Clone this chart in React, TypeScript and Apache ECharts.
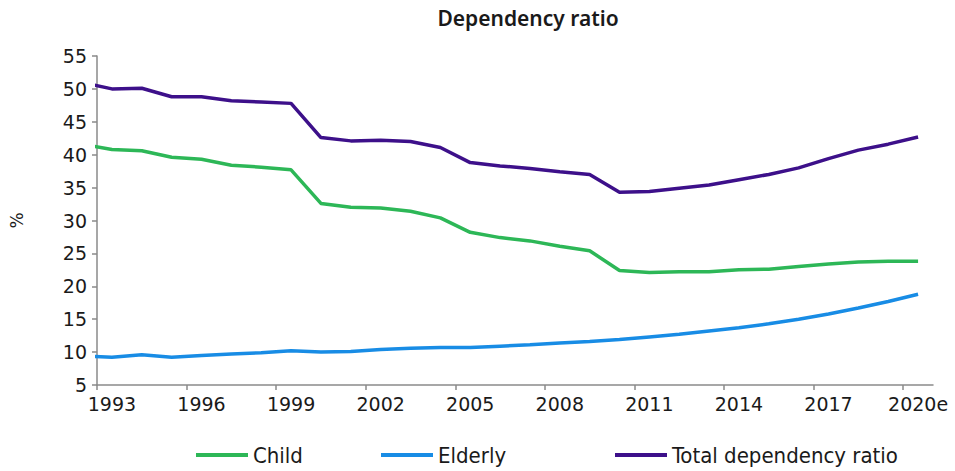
import React, { useEffect, useRef } from "react";
import * as echarts from "echarts";

// Annual observations; 1992 sits just left of the axis start and is clipped by the grid
const years = [
  1992, 1993, 1994, 1995, 1996, 1997, 1998, 1999, 2000, 2001, 2002, 2003, 2004, 2005, 2006,
  2007, 2008, 2009, 2010, 2011, 2012, 2013, 2014, 2015, 2016, 2017, 2018, 2019, 2020,
];
const child = [
  41.6, 40.8, 40.6, 39.6, 39.3, 38.4, 38.1, 37.7, 32.6, 32.0, 31.9, 31.4, 30.4, 28.2, 27.4,
  26.9, 26.1, 25.4, 22.4, 22.1, 22.2, 22.2, 22.5, 22.6, 23.0, 23.4, 23.7, 23.8, 23.8,
];
const elderly = [
  9.4, 9.2, 9.6, 9.2, 9.5, 9.7, 9.9, 10.2, 10.0, 10.1, 10.4, 10.6, 10.7, 10.7, 10.9,
  11.1, 11.4, 11.6, 11.9, 12.3, 12.7, 13.2, 13.7, 14.3, 15.0, 15.8, 16.7, 17.7, 18.8,
];
const total = [
  51.0, 50.0, 50.1, 48.8, 48.8, 48.2, 48.0, 47.8, 42.6, 42.1, 42.2, 42.0, 41.1, 38.8, 38.3,
  37.9, 37.4, 37.0, 34.3, 34.4, 34.9, 35.4, 36.2, 37.0, 38.0, 39.4, 40.7, 41.6, 42.7,
];
const xTickLabels = ["1993", "1996", "1999", "2002", "2005", "2008", "2011", "2014", "2017", "2020e"];
const seriesNames = ["Child", "Elderly", "Total dependency ratio"];
const seriesColors = ["#2DB757", "#188CE5", "#3D108A"];

const FIRST_YEAR = 1993;
const YEAR_SPAN = 28;
const LABEL_STEP = 3;
// each year occupies one unit band, its point sits in the band's middle
const toX = (year: number) => year - FIRST_YEAR + 0.5;

const FONT = "DejaVu Sans, sans-serif";
const LEGEND_FONT = "DejaVu Sans Condensed, DejaVu Sans, sans-serif";
const TITLE_FONT = "Noto Sans, DejaVu Sans, sans-serif";
const TEXT = "#1a1a1a";
const AXIS = "#8a8a8a";

export default function App() {
  const ref = useRef<HTMLDivElement>(null);

  useEffect(() => {
    if (!ref.current) return;
    const chart = echarts.init(ref.current, null, { renderer: "svg" });

    const seriesData = [child, elderly, total];
    const legendLefts = [196, 381, 615];

    chart.setOption({
      animation: false,
      backgroundColor: "#ffffff",
      textStyle: { fontFamily: FONT },
      graphic: [
        {
          type: "text",
          x: 528,
          y: 18,
          style: {
            text: "Dependency ratio",
            fill: TEXT,
            font: `600 21px ${TITLE_FONT}`,
            textAlign: "center",
            textVerticalAlign: "middle",
          },
        },
      ],
      grid: { left: 93, right: 22, top: 56, bottom: 86, containLabel: false },
      xAxis: {
        type: "value",
        min: 0,
        max: YEAR_SPAN,
        splitLine: { show: false },
        axisLine: { show: true, lineStyle: { color: AXIS, width: 1.5 } },
        axisTick: {
          show: true,
          length: 5,
          inside: false,
          lineStyle: { color: AXIS, width: 1.5 },
          customValues: xTickLabels.map((_, i) => i * LABEL_STEP),
        },
        axisLabel: {
          show: true,
          color: TEXT,
          fontSize: 19,
          fontFamily: FONT,
          margin: 9,
          customValues: xTickLabels.map((_, i) => i * LABEL_STEP + 0.5),
          formatter: (v: number) => xTickLabels[Math.round((v - 0.5) / LABEL_STEP)] ?? "",
        },
      },
      yAxis: {
        type: "value",
        min: 5,
        max: 55,
        interval: 5,
        name: "%",
        nameLocation: "middle",
        nameRotate: 90,
        nameGap: 72,
        nameTextStyle: { color: TEXT, fontSize: 17, fontFamily: FONT },
        splitLine: { show: false },
        axisLine: { show: true, lineStyle: { color: AXIS, width: 1.5 } },
        axisTick: { show: true, length: 5, inside: false, lineStyle: { color: AXIS, width: 1.5 } },
        axisLabel: { color: TEXT, fontSize: 19, fontFamily: FONT, margin: 10 },
      },
      legend: seriesNames.map((name, i) => ({
        data: [name],
        left: legendLefts[i],
        top: 444,
        padding: 0,
        icon: "rect",
        itemWidth: 52,
        itemHeight: 4,
        textStyle: { color: TEXT, fontSize: 22, fontFamily: LEGEND_FONT },
        selectedMode: false,
      })),
      series: seriesNames.map((name, i) => ({
        name,
        type: "line",
        symbol: "none",
        clip: true,
        color: seriesColors[i],
        lineStyle: { color: seriesColors[i], width: 3.5 },
        data: years.map((y, j) => [toX(y), seriesData[i][j]]),
      })),
    });

    return () => chart.dispose();
  }, []);

  return (
    <div
      ref={ref}
      style={{ position: "fixed", left: 0, top: 0, width: 955, height: 471 }}
    />
  );
}
